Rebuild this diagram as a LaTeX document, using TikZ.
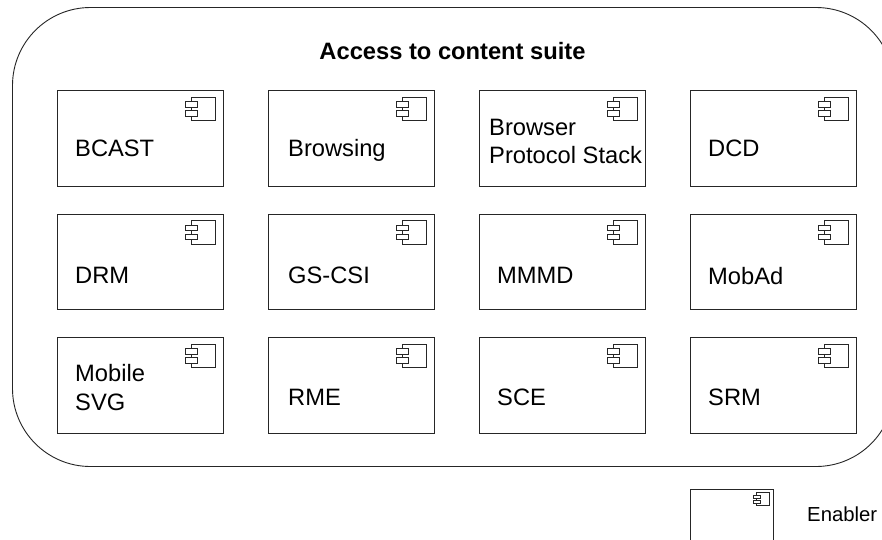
\documentclass[tikz,border=0pt]{standalone}
\usepackage{fontspec}
\setmainfont{Liberation Sans}
\usetikzlibrary{calc}
\tikzset{
  suite/.style={draw=black!85,line width=0.9pt},
  enabler/.style={draw=black!85,line width=0.9pt,fill=white,rectangle,inner sep=0pt,anchor=north west},
  lbl/.style={anchor=base west,align=left,inner sep=0pt,font=\fontsize{23.7}{28.5}\selectfont},
  iconline/.style={draw=black!85,line width=0.8pt,fill=white},
}
% name x0 y0 x1 y1 textx baseline text
\newcommand{\enablerbox}[8]{%
  \node[enabler,minimum width=#4pt-#2pt,minimum height=#5pt-#3pt] (#1) at (#2,#3) {};
  \draw[iconline] ($(#4,#3)+(-31.6,7.3)$) rectangle ($(#4,#3)+(-7.6,30.7)$);
  \draw[iconline] ($(#4,#3)+(-38,11.7)$) rectangle ($(#4,#3)+(-26,17.2)$);
  \draw[iconline] ($(#4,#3)+(-38,20.5)$) rectangle ($(#4,#3)+(-26,26)$);
  \node[lbl] (#1t) at (#6,#7) {#8};
}
\begin{document}
\begin{tikzpicture}[x=1pt,y=-1pt]
\useasboundingbox (0,0) rectangle (882,539);
\clip (0,0) rectangle (882,539);
\fill[white] (0,0) rectangle (882,539);
\draw[suite,rounded corners=78pt] (12.5,7.5) rectangle (894,466.5);
\node[font=\fontsize{23.7}{28}\selectfont\bfseries,anchor=base,inner sep=0pt] (title) at (452.5,59) {Access to content suite};
\enablerbox{a1}{57.2}{90}{223.2}{185.7}{75}{156}{BCAST}
\enablerbox{a2}{268}{90}{434}{185.7}{288}{156}{Browsing}
\enablerbox{a3}{479}{90}{645}{185.7}{489}{135}{Browser}
\node[lbl] (a3u) at (489,163) {Protocol Stack};
\enablerbox{a4}{690}{90}{856}{185.7}{708}{156}{DCD}
\enablerbox{b1}{57.2}{213.5}{223.2}{309}{75}{283}{DRM}
\enablerbox{b2}{268}{213.5}{434}{309}{288}{283}{GS-CSI}
\enablerbox{b3}{479}{213.5}{645}{309}{497}{283}{MMMD}
\enablerbox{b4}{690}{213.5}{856}{309}{708}{284}{MobAd}
\enablerbox{c1}{57.2}{337}{223.2}{433}{75}{381.7}{Mobile}
\node[lbl] (c1u) at (75,410.5) {SVG};
\enablerbox{c2}{268}{337}{434}{433}{288}{405}{RME}
\enablerbox{c3}{479}{337}{645}{433}{497}{405}{SCE}
\enablerbox{c4}{690}{337}{856}{433}{708}{405}{SRM}
\node[enabler,minimum width=83pt,minimum height=60pt] (legend) at (689.7,489) {};
\draw[iconline,line width=0.55pt] (756,492.7) rectangle (769.3,505);
\draw[iconline,line width=0.55pt] (753.7,495.5) rectangle (760,498.3);
\draw[iconline,line width=0.55pt] (753.7,500) rectangle (760,502.8);
\node[lbl,font=\fontsize{20.3}{24}\selectfont] (legendt) at (807,521.7) {Enabler};
\end{tikzpicture}
\end{document}
